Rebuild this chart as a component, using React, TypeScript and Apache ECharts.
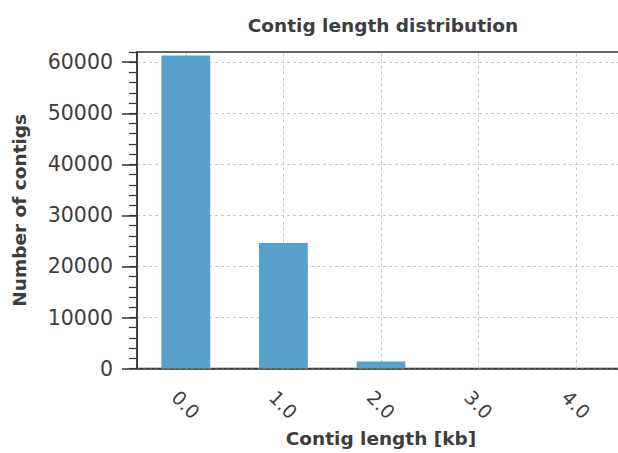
import React, { useEffect, useRef } from "react";
import * as echarts from "echarts";

const categories = ["0.0", "1.0", "2.0", "3.0", "4.0"];
const contigCounts = [61300, 24600, 1400, 30, 5];
const yMajorTicks = [0, 10000, 20000, 30000, 40000, 50000, 60000];

const TEXT = "#3d3d3d";
const FONT = "DejaVu Sans";

export default function App() {
  const ref = useRef<HTMLDivElement>(null);
  useEffect(() => {
    if (!ref.current) return;
    const chart = echarts.init(ref.current, null, { renderer: "svg" });
    chart.setOption({
      animation: false,
      backgroundColor: "#ffffff",
      title: {
        text: "Contig length distribution",
        left: 378,
        textAlign: "center",
        top: 11,
        textStyle: { fontFamily: FONT, fontSize: 18.5, fontWeight: "bold", color: TEXT },
      },
      grid: {
        left: 137,
        top: 52,
        bottom: 79,
        right: 5,
        show: true,
        borderColor: "#333",
        borderWidth: 1.5,
        backgroundColor: "transparent",
      },
      xAxis: {
        type: "category",
        data: categories,
        boundaryGap: true,
        name: "Contig length [kb]",
        nameLocation: "middle",
        nameGap: 56,
        nameTextStyle: { fontFamily: FONT, fontSize: 18.5, fontWeight: "bold", color: TEXT },
        axisLine: { show: true, lineStyle: { color: "#333", width: 1.5 } },
        axisTick: { show: false },
        splitLine: { show: false },
        axisLabel: {
          rotate: -45,
          align: "center",
          verticalAlign: "middle",
          margin: 36,
          fontFamily: FONT,
          fontSize: 19,
          color: TEXT,
        },
      },
      yAxis: [
        {
          type: "value",
          position: "left",
          min: 0,
          max: 62000,
          interval: 10000,
          name: "Number of contigs",
          nameLocation: "middle",
          nameGap: 108,
          nameTextStyle: { fontFamily: FONT, fontSize: 18.5, fontWeight: "bold", color: TEXT },
          axisLine: { show: true, lineStyle: { color: "#333", width: 1.5 } },
          axisTick: {
            show: true,
            length: 15,
            customValues: yMajorTicks,
            lineStyle: { color: "#333", width: 1.5 },
          },
          axisLabel: {
            customValues: yMajorTicks,
            formatter: (v: number) => String(v),
            margin: 24,
            fontFamily: FONT,
            fontSize: 20.5,
            color: TEXT,
          },
          splitLine: {
            show: true,
            lineStyle: { color: "#c8c8c8", type: [3, 3], width: 1 },
          },
        },
        {
          type: "value",
          position: "left",
          min: 0,
          max: 62000,
          interval: 2000,
          axisLine: { show: false },
          axisLabel: { show: false },
          splitLine: { show: false },
          axisTick: { show: true, length: 8, lineStyle: { color: "#333", width: 1.2 } },
        },
      ],
      series: [
        {
          type: "bar",
          data: contigCounts,
          barWidth: "50%",
          z: 3,
          itemStyle: { color: "#58a0cc", borderWidth: 0 },
        },
        {
          type: "line",
          data: [],
          z: 1,
          markLine: {
            silent: true,
            symbol: "none",
            z: 1,
            label: { show: false },
            lineStyle: { color: "#c8c8c8", type: [3, 3], width: 1 },
            data: categories.map((c) => ({ xAxis: c })),
          },
        },
      ],
    });
    return () => chart.dispose();
  }, []);
  return (
    <div
      style={{
        position: "absolute",
        left: 0,
        top: 0,
        width: 618,
        height: 453,
        overflow: "hidden",
        background: "#fff",
      }}
    >
      <div ref={ref} style={{ width: 630, height: 453 }} />
    </div>
  );
}
